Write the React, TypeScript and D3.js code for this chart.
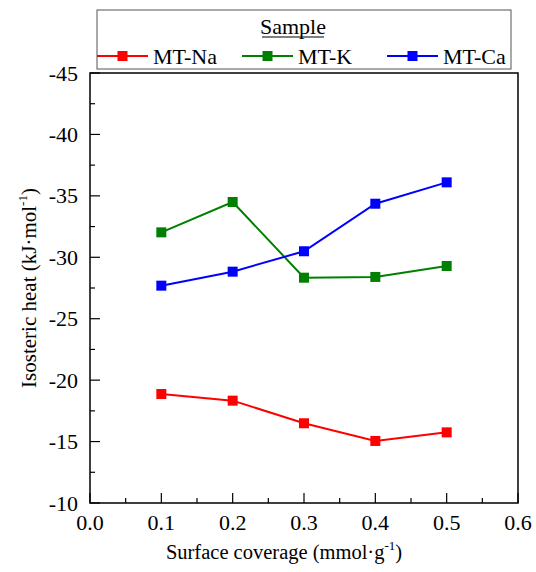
import React from "react";
import * as d3 from "d3";

const coverage = [0.1, 0.2, 0.3, 0.4, 0.5];
const naHeat = [-18.87, -18.33, -16.49, -15.05, -15.75];
const kHeat = [-32.03, -34.5, -28.34, -28.4, -29.29];
const caHeat = [-27.69, -28.83, -30.49, -34.36, -36.1];
const seriesNames = ["MT-Na", "MT-K", "MT-Ca"];
const seriesColors = ["#ff0000", "#008000", "#0000ff"];
const xTicks = [0, 0.1, 0.2, 0.3, 0.4, 0.5, 0.6];
const yTicks = [-10, -15, -20, -25, -30, -35, -40, -45];

const W = 536, H = 572;
const m = { left: 90, right: 518, top: 73, bottom: 503 };
const font = "Liberation Serif, Times New Roman, serif";

export default function App() {
  const x = d3.scaleLinear().domain([0, 0.6]).range([m.left, m.right]);
  const y = d3.scaleLinear().domain([-10, -45]).range([m.bottom, m.top]);
  const all = [naHeat, kHeat, caHeat];

  const line = d3.line<number>()
    .x((_, i) => x(coverage[i]))
    .y(d => y(d));

  // minor ticks halfway between majors
  const xMinor = d3.range(0.05, 0.6, 0.1);
  const yMinor = d3.range(-12.5, -45, -5);

  const legendX = [97, 242, 387];

  return (
    <svg width={W} height={H} style={{ position: "absolute", left: 0, top: 0, background: "#fff", fontFamily: font }}>
      {/* legend */}
      <rect x={97} y={10} width={414} height={59} fill="#fff" stroke="#555" strokeWidth={1} />
      <text x={293} y={34} textAnchor="middle" fontSize={22}>Sample</text>
      <line x1={262} x2={324} y1={37} y2={37} stroke="#000" strokeWidth={1} />
      {seriesNames.map((n, i) => (
        <g key={n}>
          <line x1={legendX[i]} x2={legendX[i] + 51} y1={56} y2={56} stroke={seriesColors[i]} strokeWidth={2} />
          <rect x={legendX[i] + 20.5} y={51} width={10} height={10} fill={seriesColors[i]} />
          <text x={legendX[i] + 56} y={63.5} fontSize={22}>{n}</text>
        </g>
      ))}

      {/* frame */}
      <rect x={m.left} y={m.top} width={m.right - m.left} height={m.bottom - m.top}
        fill="none" stroke="#000" strokeWidth={1.5} />

      {/* x ticks */}
      {xTicks.map(t => (
        <g key={"x" + t}>
          <line x1={x(t)} x2={x(t)} y1={m.bottom} y2={m.bottom - 10} stroke="#000" strokeWidth={1.2} />
          <text x={x(t)} y={530} textAnchor="middle" fontSize={22}>{t.toFixed(1)}</text>
        </g>
      ))}
      {xMinor.map(t => (
        <line key={"xm" + t} x1={x(t)} x2={x(t)} y1={m.bottom} y2={m.bottom - 5} stroke="#000" strokeWidth={1.2} />
      ))}

      {/* y ticks */}
      {yTicks.map(t => (
        <g key={"y" + t}>
          <line x1={m.left} x2={m.left + 10} y1={y(t)} y2={y(t)} stroke="#000" strokeWidth={1.2} />
          <text x={78} y={y(t) + 7.5} textAnchor="end" fontSize={22}>{t}</text>
        </g>
      ))}
      {yMinor.map(t => (
        <line key={"ym" + t} x1={m.left} x2={m.left + 5} y1={y(t)} y2={y(t)} stroke="#000" strokeWidth={1.2} />
      ))}

      {/* axis titles */}
      <text x={284} y={559} textAnchor="middle" fontSize={20.5}>
        Surface coverage (mmol·g<tspan dy={-9} fontSize={13}>-1</tspan><tspan dy={9}>)</tspan>
      </text>
      <text transform={`translate(36, ${(m.top + m.bottom) / 2}) rotate(-90)`} textAnchor="middle" fontSize={21}>
        Isosteric heat (kJ·mol<tspan dy={-9} fontSize={13}>-1</tspan><tspan dy={9}>)</tspan>
      </text>

      {/* series */}
      {all.map((s, i) => (
        <g key={seriesNames[i]}>
          <path d={line(s) || ""} fill="none" stroke={seriesColors[i]} strokeWidth={2} />
          {s.map((v, j) => (
            <rect key={j} x={x(coverage[j]) - 5} y={y(v) - 5} width={10} height={10} fill={seriesColors[i]} />
          ))}
        </g>
      ))}
    </svg>
  );
}
